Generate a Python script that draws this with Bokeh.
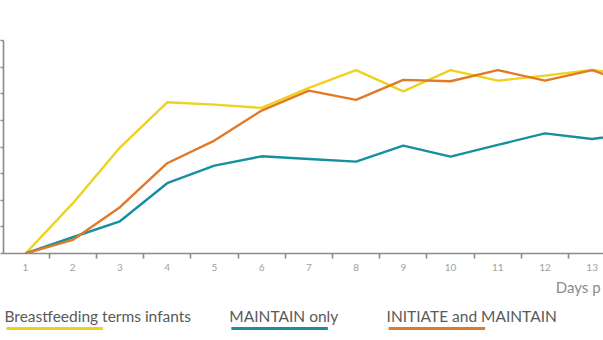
from bokeh.plotting import figure
from bokeh.layouts import column
from bokeh.models import Range1d, FixedTicker, ColumnDataSource
from bokeh.core.properties import value
from bokeh.embed import file_html
from bokeh.resources import INLINE

# ---- data (y in % of scale 0-80) ----
days = [1, 2, 3, 4, 5, 6, 7, 8, 9, 10, 11, 12, 13, 14]
breastfeeding_term = [0, 18.8, 39.8, 56.8, 55.9, 54.7, 62.2, 68.9, 60.9, 68.9, 64.9, 66.8, 68.9, 67.0]
maintain_only = [0, 6.1, 12.1, 26.4, 33.0, 36.5, 35.5, 34.5, 40.5, 36.4, 40.8, 45.1, 43.0, 45.5]
initiate_maintain = [0, 5.1, 17.4, 33.9, 42.4, 53.7, 61.2, 57.7, 65.2, 64.7, 68.9, 64.9, 68.9, 62.5]
day_ticks = [1, 2, 3, 4, 5, 6, 7, 8, 9, 10, 11, 12, 13]
y_ticks = [0, 10, 20, 30, 40, 50, 60, 70, 80]
series_names = ["Breastfeeding terms infants", "MAINTAIN only", "INITIATE and MAINTAIN"]
series_colors = ["#EED21E", "#16909F", "#E07A28"]
x_title = "Days p"   # axis title as visible (cut off at the right edge in the reference)

FONT = "Lato"
AXIS_COLOR = "#8a8a8a"

p = figure(width=603, height=275, output_backend="svg", toolbar_location=None,
           x_range=Range1d(0.534, 13.24), y_range=Range1d(0, 80),
           min_border_left=0, min_border_right=0, min_border_top=40, min_border_bottom=22)
p.outline_line_color = None
p.xgrid.visible = False
p.ygrid.visible = False
p.background_fill_color = "white"
p.border_fill_color = "white"

for ys, c in zip([breastfeeding_term, maintain_only, initiate_maintain], series_colors):
    p.line(days, ys, line_color=c, line_width=2.4)

# x axis: labels on the days, ticks between them
xt = FixedTicker(ticks=day_ticks, minor_ticks=[d + 0.5 for d in day_ticks[:-1]])
p.xaxis.ticker = xt
p.xaxis.axis_line_color = AXIS_COLOR
p.xaxis.axis_line_width = 1.6
p.xaxis.major_tick_out = 0
p.xaxis.major_tick_in = 0
p.xaxis.minor_tick_out = 5
p.xaxis.minor_tick_in = 0
p.xaxis.minor_tick_line_color = AXIS_COLOR
p.xaxis.minor_tick_line_width = 1.6
p.xaxis.major_label_standoff = 5
p.xaxis.major_label_text_font = FONT
p.xaxis.major_label_text_font_size = "10px"
p.xaxis.major_label_text_color = "#a0a0a0"

# y axis: ticks only, no labels
p.yaxis.ticker = FixedTicker(ticks=y_ticks, minor_ticks=[])
p.yaxis.axis_line_color = AXIS_COLOR
p.yaxis.axis_line_width = 1.6
p.yaxis.major_tick_out = 3
p.yaxis.major_tick_in = 0
p.yaxis.major_tick_line_color = AXIS_COLOR
p.yaxis.major_tick_line_width = 1.6
p.yaxis.minor_tick_out = 0
p.yaxis.major_label_overrides = {t: "" for t in y_ticks}
p.yaxis.major_label_standoff = 0

# ---- legend strip (below the chart) ----
lg = figure(width=603, height=65, output_backend="svg", toolbar_location=None,
            x_range=Range1d(0, 603), y_range=Range1d(65, 0),
            min_border=0)
lg.outline_line_color = None
lg.xgrid.visible = False
lg.ygrid.visible = False
lg.xaxis.visible = False
lg.yaxis.visible = False

lg.text(x=[555], y=[11.7], text=[x_title], text_font=value(FONT),
        text_font_size="15px", text_color="#8c8c8c", text_baseline="alphabetic")

item_x = [3, 229, 387]
src = ColumnDataSource(dict(x=item_x, tx=[x - 2 for x in item_x], name=series_names,
                            color=series_colors, x1=[x + 97 for x in item_x],
                            yt=[40.7] * 3, yb=[53] * 3))
lg.text(x="tx", y="yt", text="name", source=src, text_font=value(FONT),
        text_font_size="15.5px", text_color="#5a5a5a", text_baseline="alphabetic")
lg.segment(x0="x", y0="yb", x1="x1", y1="yb", line_color="color", line_width=3.2, source=src)

layout = column(p, lg, spacing=0)
open("out.html", "w").write(file_html(layout, INLINE))
